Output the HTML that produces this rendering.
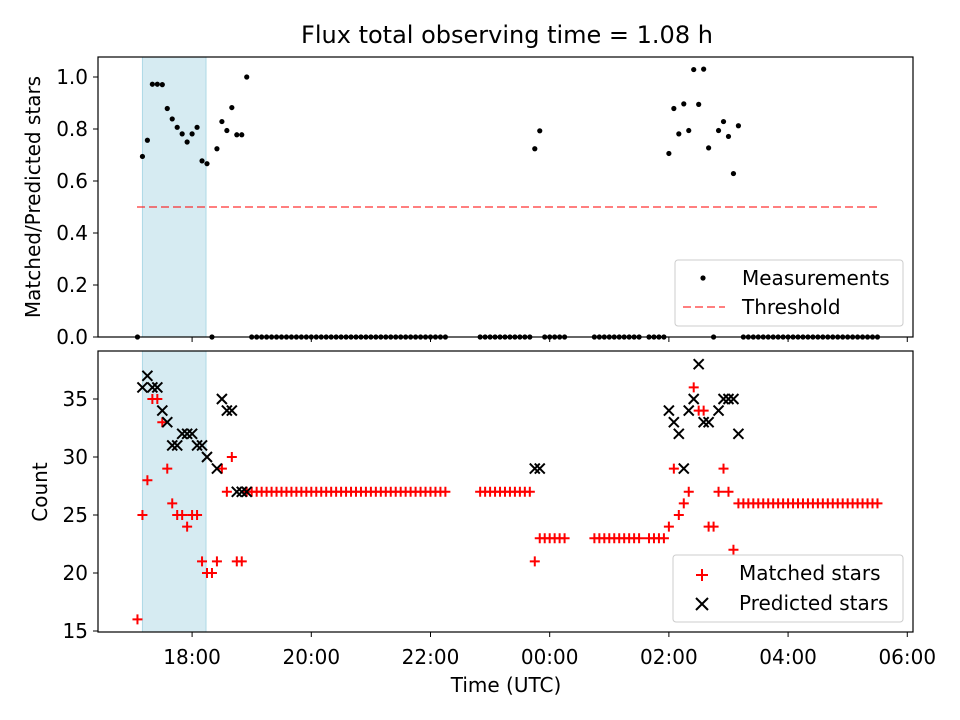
<!DOCTYPE html>
<html><head><meta charset="utf-8"><style>
body{margin:0;background:#fff;}
svg{display:block;font-family:"DejaVu Sans","Liberation Sans",sans-serif;}
</style></head><body>
<svg id="chart" width="960" height="720" xmlns="http://www.w3.org/2000/svg"></svg>
<script>
// Minutes after 17:00 UTC
const times = [5,10,15,20,25,30,35,40,45,50,55,60,65,70,75,80,85,90,95,100,105,110,115,
120,125,130,135,140,145,150,155,160,165,170,175,180,185,190,195,200,205,210,215,220,225,230,235,240,245,250,255,260,265,270,275,280,285,290,295,300,305,310,315,
350,355,360,365,370,375,380,385,390,395,400,405,410,415,420,425,430,435,
465,470,475,480,485,490,495,500,505,510,
520,525,530,535,540,545,550,555,560,565,570,575,580,585,590,595,600,605,610,
615,620,625,630,635,640,645,650,655,660,665,670,675,680,685,690,695,700,705,710,715,720,725,730,735,740,745,750];
const matched = [16,25,28,35,35,33,29,26,25,25,24,25,25,21,20,20,21,29,27,30,21,21,27,
27,27,27,27,27,27,27,27,27,27,27,27,27,27,27,27,27,27,27,27,27,27,27,27,27,27,27,27,27,27,27,27,27,27,27,27,27,27,27,27,
27,27,27,27,27,27,27,27,27,27,27,21,23,23,23,23,23,23,
23,23,23,23,23,23,23,23,23,23,
23,23,23,23,24,29,25,26,27,36,34,34,24,24,27,29,27,22,26,
26,26,26,26,26,26,26,26,26,26,26,26,26,26,26,26,26,26,26,26,26,26,26,26,26,26,26,26];
const predicted = [null,36,37,36,36,34,33,31,31,32,32,32,31,31,30,null,29,35,34,34,27,27,27,
null,null,null,null,null,null,null,null,null,null,null,null,null,null,null,null,null,null,null,null,null,null,null,null,null,null,null,null,null,null,null,null,null,null,null,null,null,null,null,null,
null,null,null,null,null,null,null,null,null,null,null,29,29,null,null,null,null,null,
null,null,null,null,null,null,null,null,null,null,
null,null,null,null,34,33,32,29,34,35,38,33,33,null,34,35,35,35,32,
null,null,null,null,null,null,null,null,null,null,null,null,null,null,null,null,null,null,null,null,null,null,null,null,null,null,null,null];
const xTickLabels = ["18:00","20:00","22:00","00:00","02:00","04:00","06:00"];
const xTickMins = [60,180,300,420,540,660,780];
const topTicks = [0,0.2,0.4,0.6,0.8,1.0];
const botTicks = [15,20,25,30,35];
const threshold = 0.5;
const shadeStart = 10, shadeEnd = 74;

const NS="http://www.w3.org/2000/svg";
const svg=document.getElementById('chart');
function el(tag,attrs,parent){const e=document.createElementNS(NS,tag);for(const k in attrs)e.setAttribute(k,attrs[k]);(parent||svg).appendChild(e);return e;}
const L=98,R=913,T1=57,B1=337,T2=351,B2=632;
const FS=20;
const xs=m=>132.5+m*0.9933;
const y1=v=>337-v*260;
const y2=c=>631-(c-15)*11.6;

let t=el('text',{x:507,y:43,'text-anchor':'middle','font-size':'24'});t.textContent='Flux total observing time = 1.08 h';


[[T1,B1],[T2,B2]].forEach(([a,b],i)=>{
 const r=el('rect',{x:xs(shadeStart),y:a,width:xs(shadeEnd)-xs(shadeStart),height:b-a,fill:'#add8e6','fill-opacity':0.5,stroke:'#add8e6','stroke-width':1});
 
});

const th=el('line',{x1:137,x2:877,y1:y1(threshold),y2:y1(threshold),stroke:'#ff0000','stroke-opacity':0.5,'stroke-width':2,'stroke-dasharray':'8,4'});


times.forEach((m,i)=>{
 const r=predicted[i]?matched[i]/predicted[i]:0;
 const c=el('circle',{cx:xs(m),cy:y1(r),r:2.6,fill:'#000'});
 
});
times.forEach((m,i)=>{
 const x=xs(m),y=y2(matched[i]);
 const p=el('path',{d:`M${x-5},${y}H${x+5}M${x},${y-5}V${y+5}`,stroke:'#f00','stroke-width':2});
 
});
times.forEach((m,i)=>{
 if(predicted[i]==null)return;
 const x=xs(m),y=y2(predicted[i]);
 const p=el('path',{d:`M${x-5},${y-5}L${x+5},${y+5}M${x-5},${y+5}L${x+5},${y-5}`,stroke:'#000','stroke-width':2});
 
});

[[T1,B1],[T2,B2]].forEach(([a,b],i)=>{
 const r=el('rect',{x:L,y:a,width:R-L,height:b-a,fill:'none',stroke:'#000','stroke-width':1.2});
 
 xTickMins.forEach((m,j)=>{
  el('line',{x1:xs(m),x2:xs(m),y1:b,y2:b+5,stroke:'#000','stroke-width':1});
  if(i){const tx=el('text',{x:xs(m),y:b+32,'text-anchor':'middle','font-size':FS});tx.textContent=xTickLabels[j];
   }
 });
});
topTicks.forEach(v=>{
 el('line',{x1:L-5,x2:L,y1:y1(v),y2:y1(v),stroke:'#000'});
 const tx=el('text',{x:L-10,y:y1(v)+7,'text-anchor':'end','font-size':FS});tx.textContent=v.toFixed(1);
 
});
botTicks.forEach(v=>{
 el('line',{x1:L-5,x2:L,y1:y2(v),y2:y2(v),stroke:'#000'});
 const tx=el('text',{x:L-10,y:y2(v)+7,'text-anchor':'end','font-size':FS});tx.textContent=v;
 
});
t=el('text',{transform:'translate(40,197) rotate(-90)','text-anchor':'middle','font-size':FS});t.textContent='Matched/Predicted stars';

t=el('text',{transform:'translate(47,492) rotate(-90)','text-anchor':'middle','font-size':FS});t.textContent='Count';

t=el('text',{x:506,y:692,'text-anchor':'middle','font-size':FS});t.textContent='Time (UTC)';


let g=el('g',{});
el('rect',{x:675,y:260,width:228,height:66,rx:3,fill:'#fff','fill-opacity':0.8,stroke:'#ccc'},g);
el('circle',{cx:703,cy:278,r:2.6,fill:'#000'},g);
t=el('text',{x:742,y:285,'font-size':FS},g);t.textContent='Measurements';
el('line',{x1:683,x2:725,y1:307,y2:307,stroke:'#f00','stroke-opacity':0.5,'stroke-width':2,'stroke-dasharray':'8,4'},g);
t=el('text',{x:742,y:314,'font-size':FS},g);t.textContent='Threshold';
g=el('g',{});
el('rect',{x:673,y:555,width:230,height:67,rx:3,fill:'#fff','fill-opacity':0.8,stroke:'#ccc'},g);
el('path',{d:'M696,575H708M702,569V581',stroke:'#f00','stroke-width':2},g);
t=el('text',{x:739,y:580,'font-size':FS},g);t.textContent='Matched stars';
el('path',{d:'M696,598L708,610M696,610L708,598',stroke:'#000','stroke-width':2},g);
t=el('text',{x:739,y:610,'font-size':FS},g);t.textContent='Predicted stars';
</script>
</body></html>
